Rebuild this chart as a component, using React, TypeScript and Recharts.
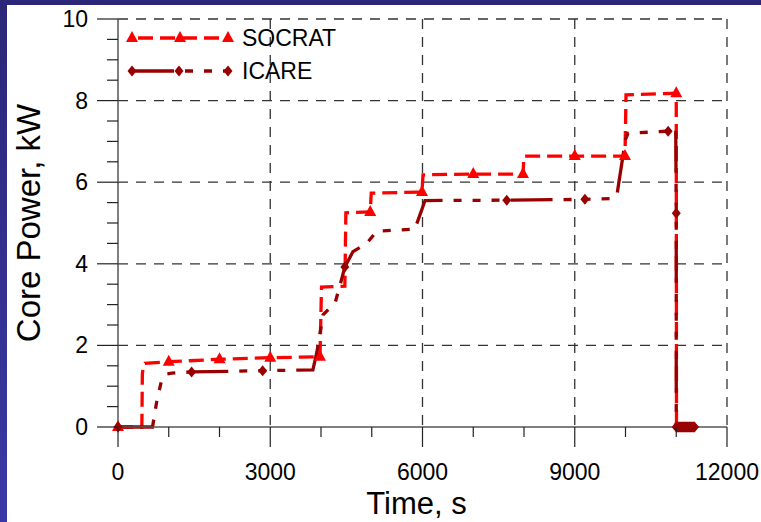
import { LineChart, Line, XAxis, YAxis, CartesianGrid } from 'recharts';

// SOCRAT: step-wise core power, markers only on flagged points
const socratTime = [0, 470, 480, 500, 530, 1000, 2000, 3000, 3980, 4010, 4470, 4490, 4970, 4990, 5990, 6010, 7000, 7980, 8000, 9000, 9990, 10010, 11000, 11005];
const socratPower = [0, 0, 1.3, 1.5, 1.56, 1.6, 1.66, 1.7, 1.72, 3.43, 3.45, 5.25, 5.27, 5.73, 5.76, 6.18, 6.2, 6.2, 6.64, 6.64, 6.64, 8.14, 8.18, 0];
const socratMark = [1, 0, 0, 0, 0, 1, 1, 1, 1, 0, 0, 0, 1, 0, 1, 0, 1, 1, 0, 1, 1, 0, 1, 0];

// ICARE
const icareTime = [0, 680, 760, 850, 950, 1060, 1450, 2850, 3840, 3920, 4040, 4280, 4380, 4470, 4630, 4900, 5100, 5850, 6050, 7660, 9200, 9700, 9830, 10000, 10050, 10840, 10990, 11000, 11000, 11015, 11030, 11045, 11060, 11075, 11090, 11105, 11120, 11135, 11150, 11165, 11180, 11195, 11210, 11225, 11240, 11255, 11270, 11285, 11300, 11315, 11330, 11345, 11360];
const icarePower = [0, 0, 0.6, 1.1, 1.3, 1.32, 1.35, 1.38, 1.4, 1.84, 2.75, 3.05, 3.5, 3.92, 4.3, 4.5, 4.8, 4.85, 5.55, 5.56, 5.58, 5.6, 5.68, 7.05, 7.2, 7.25, 7.3, 5.24, 0, 0, 0, 0, 0, 0, 0, 0, 0, 0, 0, 0, 0, 0, 0, 0, 0, 0, 0, 0, 0, 0, 0, 0, 0];
const icareMark = [1, 0, 0, 0, 0, 0, 1, 1, 0, 0, 0, 0, 0, 1, 0, 0, 0, 0, 0, 1, 1, 0, 0, 0, 0, 1, 0, 1, 1, 1, 1, 1, 1, 1, 1, 1, 1, 1, 1, 1, 1, 1, 1, 1, 1, 1, 1, 1, 1, 1, 1, 1, 1];

const xTicks = [0, 1000, 2000, 3000, 4000, 5000, 6000, 7000, 8000, 9000, 10000, 11000, 12000];
const yTicks = [0, 0.5, 1, 1.5, 2, 2.5, 3, 3.5, 4, 4.5, 5, 5.5, 6, 6.5, 7, 7.5, 8, 8.5, 9, 9.5, 10];

const socratData = socratTime.map((t, i) => ({ t, p: socratPower[i], m: socratMark[i] }));
const icareData = icareTime.map((t, i) => ({ t, p: icarePower[i], m: icareMark[i] }));

const FONT = '"Liberation Sans", Arial, sans-serif';
const RED = '#ff0000';
const DARK = '#990000';
const ICARE_DASH = '42 11 8 11 8 11 8 11';

const triangle = (cx: number, cy: number, key?: any) => (
  <polygon key={key} points={`${cx},${cy - 7} ${cx - 6},${cy + 4} ${cx + 6},${cy + 4}`} fill={RED} />
);
const diamond = (cx: number, cy: number, key?: any) => (
  <polygon key={key} points={`${cx},${cy - 5.5} ${cx + 4.5},${cy} ${cx},${cy + 5.5} ${cx - 4.5},${cy}`} fill={DARK} />
);

const XTick = (props: any) => {
  const { x, y, payload } = props;
  const major = payload.value % 3000 === 0;
  return (
    <g>
      <line x1={x} x2={x} y1={y} y2={y + (major ? 20 : 10)} stroke="#222" strokeWidth={1.2} />
      {major && (
        <text x={x} y={y + 53} textAnchor="middle" fontSize={23} fontFamily={FONT} fill="#000">
          {payload.value}
        </text>
      )}
    </g>
  );
};

const YTick = (props: any) => {
  const { x, y, payload } = props;
  const major = payload.value % 2 === 0;
  return (
    <g>
      <line x1={x - (major ? 21 : 11)} x2={x} y1={y} y2={y} stroke="#222" strokeWidth={1.2} />
      {major && (
        <text x={x - 30} y={y + 8} textAnchor="end" fontSize={23} fontFamily={FONT} fill="#000">
          {payload.value}
        </text>
      )}
    </g>
  );
};

export default function App() {
  return (
    <div style={{ position: 'absolute', left: 0, top: 0, width: 761, height: 522, background: '#fff', overflow: 'hidden' }}>
      <div style={{ position: 'absolute', left: 0, top: 0, width: 761, height: 5, background: '#2b2677' }} />
      <div style={{ position: 'absolute', left: 0, top: 0, width: 7, height: 522, background: 'linear-gradient(#2b2677, #3a38a6)' }} />
      <LineChart width={761} height={522} margin={{ top: 19, right: 34, left: 0, bottom: 0 }} style={{ position: 'absolute', left: 0, top: 0 }}>
        <CartesianGrid
          horizontalValues={[2, 4, 6, 8, 10]}
          verticalValues={[3000, 6000, 9000, 12000]}
          stroke="#333"
          strokeWidth={1.3}
          strokeDasharray="10 8"
        />
        <XAxis
          type="number"
          dataKey="t"
          domain={[0, 12000]}
          ticks={xTicks}
          interval={0}
          height={95}
          tickSize={0}
          tickMargin={0}
          tick={<XTick />}
          axisLine={{ stroke: '#555', strokeWidth: 1.5 }}
          label={{
            content: (p: any) => (
              <text x={p.viewBox.x + p.viewBox.width / 2 - 6} y={514} textAnchor="middle" fontSize={31} fontFamily={FONT} fill="#000">
                Time, s
              </text>
            ),
          }}
        />
        <YAxis
          type="number"
          dataKey="p"
          domain={[0, 10]}
          ticks={yTicks}
          interval={0}
          width={118}
          tickSize={0}
          tickMargin={0}
          tick={<YTick />}
          axisLine={{ stroke: '#555', strokeWidth: 1.5 }}
          label={{
            content: (p: any) => {
              const cy = p.viewBox.y + p.viewBox.height / 2;
              return (
                <text x={40} y={cy} transform={`rotate(-90 40 ${cy})`} textAnchor="middle" fontSize={33} fontFamily={FONT} fill="#000">
                  Core Power, kW
                </text>
              );
            },
          }}
        />
        <Line
          data={socratData}
          dataKey="p"
          type="linear"
          stroke={RED}
          strokeWidth={3.3}
          strokeDasharray="15 7"
          isAnimationActive={false}
          dot={(d: any) => (d.payload.m ? triangle(d.cx, d.cy, d.index) : <g key={d.index} />)}
          activeDot={false}
        />
        <Line
          data={icareData}
          dataKey="p"
          type="linear"
          stroke={DARK}
          strokeWidth={3.3}
          strokeDasharray={ICARE_DASH}
          isAnimationActive={false}
          dot={(d: any) => (d.payload.m ? diamond(d.cx, d.cy, d.index) : <g key={d.index} />)}
          activeDot={false}
        />
      </LineChart>
      <svg width={420} height={100} style={{ position: 'absolute', left: 0, top: 0 }}>
        <line x1={132} x2={228} y1={38} y2={38} stroke={RED} strokeWidth={3.3} strokeDasharray="15 7" strokeDashoffset={-6} />
        {triangle(132, 38)}
        {triangle(180, 38)}
        {triangle(228, 38)}
        <text x={242} y={46} fontSize={23} fontFamily={FONT} fill="#000">SOCRAT</text>
        <line x1={132} x2={228} y1={71} y2={71} stroke={DARK} strokeWidth={3.3} strokeDasharray={ICARE_DASH} />
        {diamond(132, 71)}
        {diamond(179, 71)}
        {diamond(228, 71)}
        <text x={242} y={79} fontSize={23} fontFamily={FONT} fill="#000">ICARE</text>
      </svg>
    </div>
  );
}
